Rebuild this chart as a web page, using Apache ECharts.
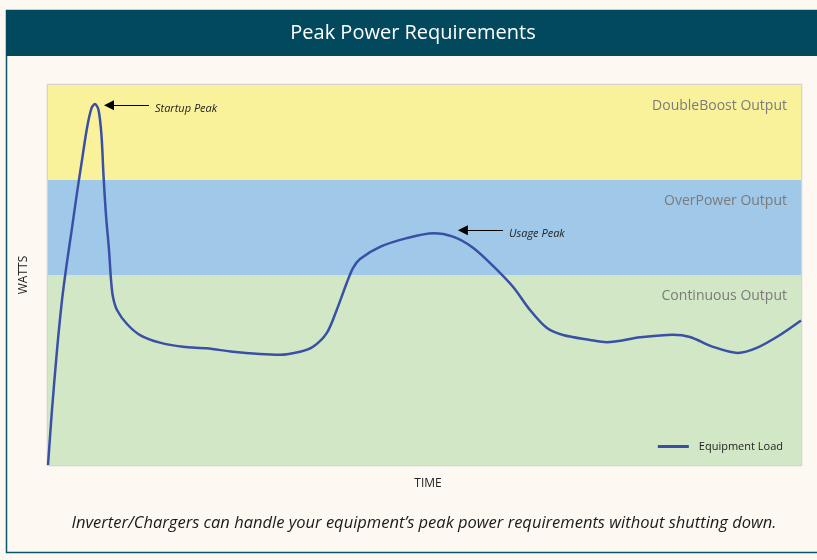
<!DOCTYPE html>
<html>
<head>
<meta charset="utf-8">
<script src="https://cdn.jsdelivr.net/npm/echarts@6/dist/echarts.min.js"></script>
<style>
html,body{margin:0;padding:0;background:#fdf9f2;}
#c{width:817px;height:560px;}
</style>
</head>
<body>
<div id="c"></div>
<script>
// Time (0-100) and load (0-100 of scale)
const timeValues = [0,0.53,1.20,1.86,2.52,3.19,3.85,4.52,5.18,5.78,6.24,6.71,7.10,7.37,7.70,8.10,8.37,8.63,9.16,10.49,12.22,14.87,17.93,21.08,24.57,28.15,30.81,33.47,35.19,37.01,38.34,39.67,40.50,41.43,44.09,47.64,51.17,53.78,56.44,59.10,61.75,64.01,66.23,68.39,71.98,74.20,78.62,83.00,85.26,88.31,91.63,94.12,97.21,100];
const loadValues = [0,14.5,30.3,43.4,53.4,62.4,71.6,80.3,88.7,93.9,95.0,93.4,86.8,76.3,65.8,56.6,48.7,44.2,40.8,37.1,34.2,32.2,31.1,30.7,29.8,29.2,29.0,29.8,31.1,34.7,40.8,47.9,51.8,54.2,57.4,59.7,61.0,60.1,57.2,52.4,46.9,40.8,36.1,34.2,32.9,32.3,33.6,34.3,33.7,31.1,29.5,30.8,34.2,38.0];
const bandNames = ['Continuous Output','OverPower Output','DoubleBoost Output'];
const bandLimits = [0,50,75,100];
const seriesName = 'Equipment Load';
const annotations = [
  {text:'Startup Peak', from:[13.41,94.7], to:[8.1,94.7]},
  {text:'Usage Peak', from:[60.42,61.8], to:[55.1,61.8]}
];
const titleText = 'Peak Power Requirements';
const captionText = 'Inverter/Chargers can handle your equipment’s peak power requirements without shutting down.';

const bandColors = ['#d2e7c5','#9fc8e9','#f9f29a'];
const chart = echarts.init(document.getElementById('c'), null, {renderer:'canvas'});
const data = timeValues.map((t,i)=>[t,loadValues[i]]);
const FONT = '"Open Sans", "DejaVu Sans", sans-serif';

chart.setOption({
  animation:false,
  backgroundColor:'#fdf9f2',
  graphic:[
    {type:'rect', shape:{x:6.5,y:10.5,width:830,height:542}, style:{fill:'none',stroke:'#0a5468',lineWidth:1.5}, z:-1},
    {type:'rect', shape:{x:6,y:10,width:820,height:46}, style:{fill:'#03495e'}, z:0},
    {type:'rect', shape:{x:47.5,y:84.5,width:754,height:381}, style:{fill:'none',stroke:'#d4d4d0',lineWidth:1.5}, z:0},
    {type:'text', x:424, y:523, style:{text:captionText, fill:'#1a1a1a', font:'italic 16.5px '+FONT, textAlign:'center', textVerticalAlign:'middle'}, z:5}
  ],
  title:{text:titleText, left:408, top:18, textAlign:'center', textStyle:{color:'#ffffff', fontSize:20, fontWeight:'normal', fontFamily:FONT}},
  legend:{
    right:29, top:436, itemWidth:31, itemHeight:3, itemGap:10,
    data:[{name:seriesName, icon:'rect'}],
    textStyle:{color:'#222', fontSize:11, fontFamily:FONT, padding:[0,0,0,5]}
  },
  grid:{left:48, right:16, top:85, bottom:95},
  xAxis:{type:'value', min:0, max:100, name:'TIME', nameLocation:'middle', nameGap:13,
    nameTextStyle:{color:'#222', fontSize:12, fontFamily:FONT, padding:[0,0,0,7]},
    axisLine:{show:false}, axisTick:{show:false}, axisLabel:{show:false}, splitLine:{show:false}},
  yAxis:{type:'value', min:0, max:100, name:'WATTS', nameLocation:'middle', nameGap:18, nameRotate:90,
    nameTextStyle:{color:'#222', fontSize:12, fontFamily:FONT},
    axisLine:{show:false}, axisTick:{show:false}, axisLabel:{show:false}, splitLine:{show:false}},
  series:[{
    name:seriesName, type:'line', data:data, smooth:0.3, showSymbol:false, symbol:'none',
    lineStyle:{color:'#3a4fa6', width:2.5}, itemStyle:{color:'#3a4fa6'},
    emphasis:{disabled:true}, silent:true, z:3,
    markArea:{
      silent:true,
      data: bandNames.map((n,i)=>[
        {yAxis:bandLimits[i], name:n, itemStyle:{color:bandColors[i]},
          label:{show:true, position:'insideTopRight', distance:11, offset:[-3,3], color:'#7b7b7b', fontSize:14, fontFamily:FONT}},
        {yAxis:bandLimits[i+1]}
      ])
    },
    markLine:{
      silent:true, symbol:['none','triangle'], symbolSize:10,
      lineStyle:{color:'#000', width:1.2, type:'solid'},
      label:{show:true, position:'start', distance:6, offset:[0,4], color:'#222', fontSize:11, fontStyle:'italic', fontFamily:FONT},
      data: annotations.map(a=>[
        {coord:a.from, label:{formatter:a.text}},
        {coord:a.to}
      ])
    }
  }]
});
</script>
</body>
</html>
